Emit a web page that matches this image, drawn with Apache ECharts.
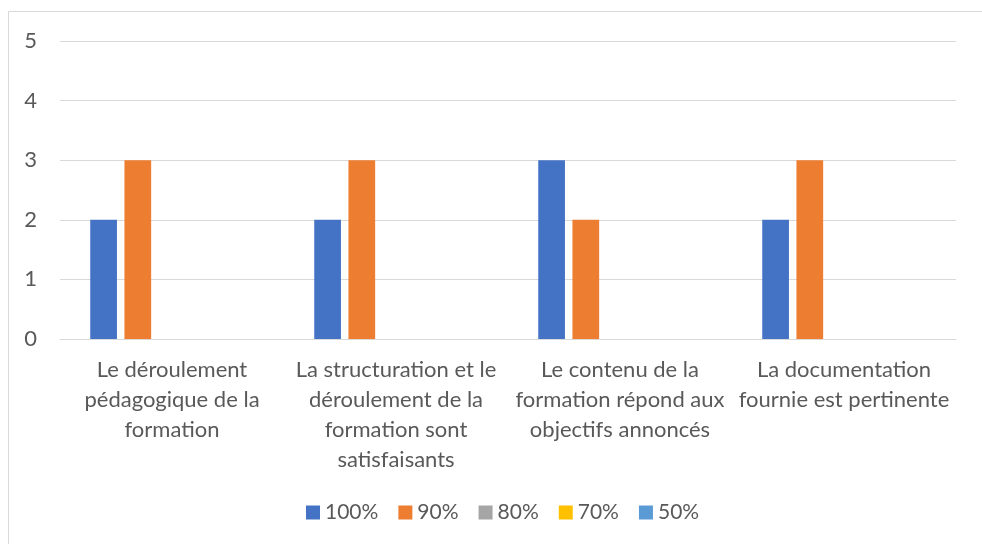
<!DOCTYPE html>
<html>
<head>
<meta charset="utf-8">
<script src="https://cdn.jsdelivr.net/npm/echarts@6/dist/echarts.min.js"></script>
<style>
html,body{margin:0;padding:0;background:#fff;overflow:hidden;}
#chart{width:982px;height:544px;}
</style>
</head>
<body>
<div id="chart"></div>
<script>
const categories = [
  "Le déroulement pédagogique de la formation",
  "La structuration et le déroulement de la formation sont satisfaisants",
  "Le contenu de la formation répond aux objectifs annoncés",
  "La documentation fournie est pertinente"
];
const categoryLabels = [
  "Le déroulement\npédagogique de la\nformation",
  "La structuration et le\ndéroulement de la\nformation sont\nsatisfaisants",
  "Le contenu de la\nformation répond aux\nobjectifs annoncés",
  "La documentation\nfournie est pertinente"
];
const seriesNames = ["100%", "90%", "80%", "70%", "50%"];
const values100 = [2, 2, 3, 2];
const values90 = [3, 3, 2, 3];
const values80 = [0, 0, 0, 0];
const values70 = [0, 0, 0, 0];
const values50 = [0, 0, 0, 0];
const yTicks = [0, 1, 2, 3, 4, 5];

const colors = ["#4472C4", "#ED7D31", "#A5A5A5", "#FFC000", "#5B9BD5"];
const allValues = [values100, values90, values80, values70, values50];
const FONT = "Lato, 'Open Sans', sans-serif";
const TXT = "#595959";

const chart = echarts.init(document.getElementById('chart'), null, {renderer: 'canvas'});
chart.setOption({
  animation: false,
  color: colors,
  textStyle: {fontFamily: FONT},
  graphic: [{
    type: 'rect', z: -1,
    shape: {x: 8.5, y: 11.5, width: 1000, height: 600},
    style: {fill: 'none', stroke: '#d9d9d9', lineWidth: 1}
  }],
  grid: {left: 60, right: 26, top: 41, bottom: 205, containLabel: false},
  legend: {
    bottom: 16,
    left: 301,
    itemWidth: 14, itemHeight: 14, itemGap: 20,
    icon: 'rect',
    textStyle: {color: TXT, fontSize: 21, fontFamily: FONT},
    data: seriesNames
  },
  xAxis: {
    type: 'category',
    data: categories,
    axisLine: {show: true, lineStyle: {color: '#d9d9d9', width: 1}},
    axisTick: {show: false},
    axisLabel: {
      color: TXT, fontSize: 22, fontFamily: FONT, lineHeight: 30,
      margin: 16, interval: 0,
      formatter: (v, i) => categoryLabels[i]
    }
  },
  yAxis: {
    type: 'value',
    min: yTicks[0], max: yTicks[yTicks.length - 1], interval: 1,
    axisLine: {show: false},
    axisTick: {show: false},
    splitLine: {lineStyle: {color: '#d9d9d9', width: 1}},
    axisLabel: {color: TXT, fontSize: 22, fontFamily: FONT, margin: 23}
  },
  series: seriesNames.map((name, i) => ({
    name: name,
    type: 'bar',
    data: allValues[i],
    barGap: '28%',
    barCategoryGap: '27%',
    itemStyle: {color: colors[i]}
  }))
});
</script>
</body>
</html>
